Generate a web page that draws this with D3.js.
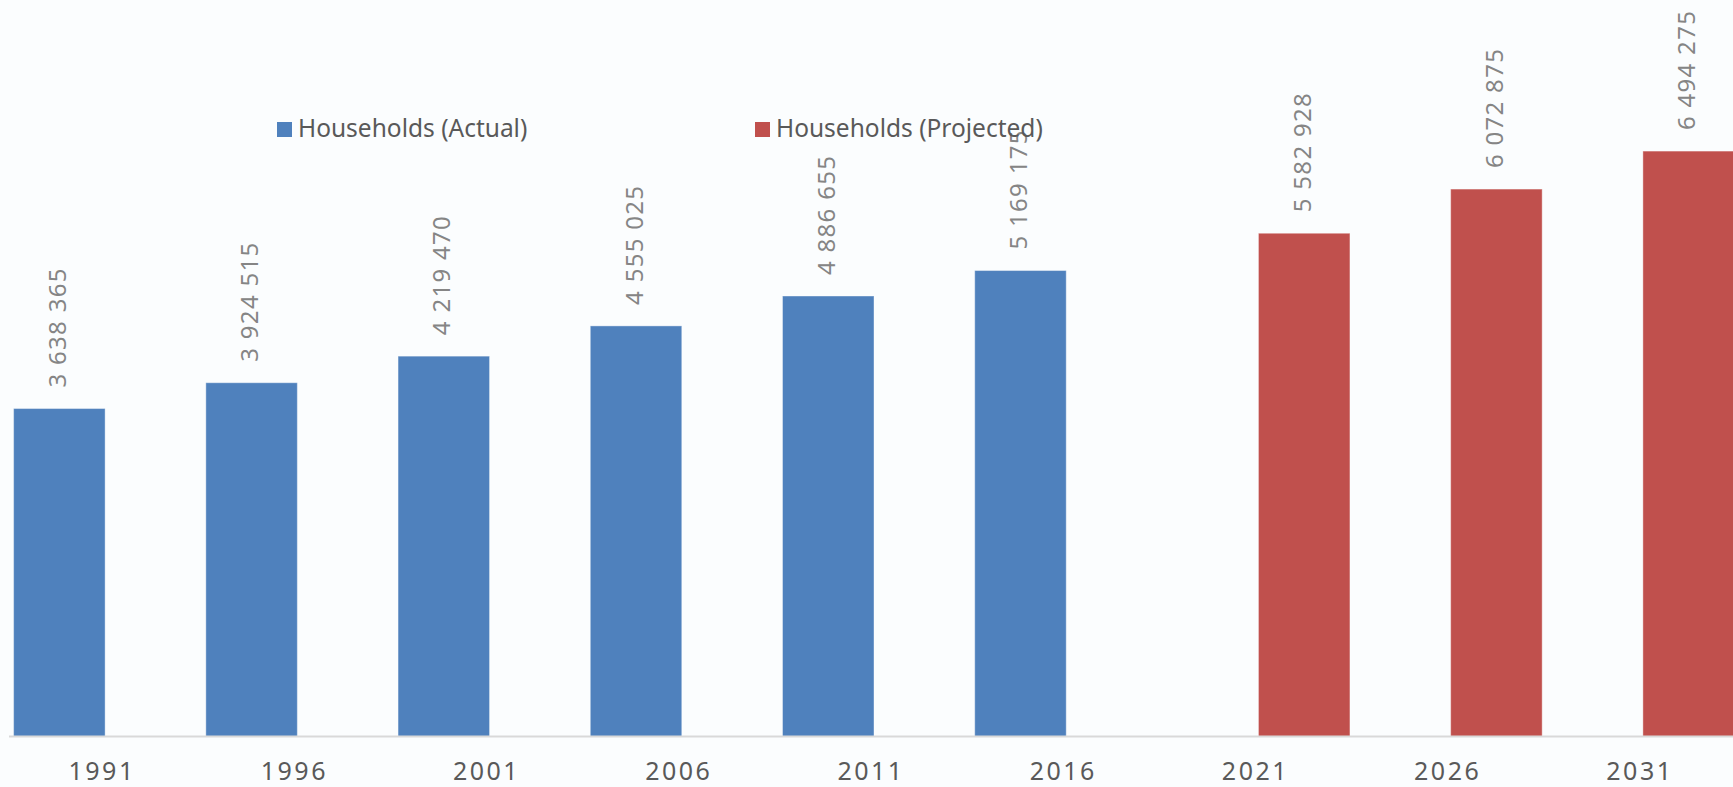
<!DOCTYPE html>
<html>
<head>
<meta charset="utf-8">
<script src="https://cdn.jsdelivr.net/npm/d3@7"></script>
<style>
  body { margin: 0; background: #fbfdfe; overflow: hidden; }
  svg { display: block; font-family: "Noto Sans", "Open Sans", sans-serif; }
</style>
</head>
<body>
<svg id="chart" width="1733" height="787"></svg>
<script>
var years = ["1991", "1996", "2001", "2006", "2011", "2016", "2021", "2026", "2031"];
var actual = [3638365, 3924515, 4219470, 4555025, 4886655, 5169175, null, null, null];
var projected = [null, null, null, null, null, null, 5582928, 6072875, 6494275];
var seriesNames = ["Households (Actual)", "Households (Projected)"];
var seriesColors = ["#4f81bd", "#c0504d"];

var svg = d3.select("#chart");
var width = +svg.attr("width");
var height = +svg.attr("height");

var x0 = d3.scaleBand().domain(years).range([9, 1739]).paddingInner(0.048).paddingOuter(0.024);
var x1 = d3.scaleBand().domain([0, 1]).range([0, x0.bandwidth()]);
var y = d3.scaleLinear().domain([0, 7000000]).range([736.5, 105.5]);

var fmt = function (v) { return d3.format(",")(v).replace(/,/g, " "); };

var rows = [];
years.forEach(function (yr, i) {
    if (actual[i] != null) rows.push({ year: yr, s: 0, v: actual[i] });
    if (projected[i] != null) rows.push({ year: yr, s: 1, v: projected[i] });
});

// bars
svg.append("g").selectAll("rect").data(rows).enter().append("rect")
    .attr("x", function (d) { return x0(d.year) + x1(d.s); })
    .attr("y", function (d) { return y(d.v); })
    .attr("width", x1.bandwidth())
    .attr("height", function (d) { return y(0) - y(d.v); })
    .attr("fill", function (d) { return seriesColors[d.s]; })
    .attr("stroke", "#ffffff").attr("stroke-opacity", 0.4).attr("stroke-width", 1);

// axis
var xAxis = svg.append("g").attr("transform", "translate(0," + y(0) + ")")
    .call(d3.axisBottom(x0).tickSize(0).tickPadding(26));
xAxis.select(".domain").attr("stroke", "#d9d9d9").attr("stroke-width", 2)
    .attr("d", "M9,0H" + width);
xAxis.selectAll("text").attr("fill", "#595959").attr("font-size", 25)
    .attr("font-family", "Noto Sans, sans-serif")
    .attr("letter-spacing", "2.5px").attr("dx", -3);

// data labels
svg.append("g").selectAll("text").data(rows).enter().append("text")
    .attr("transform", function (d) {
        var cx = x0(d.year) + x1(d.s) + x1.bandwidth() / 2 - 2;
        return "translate(" + cx + "," + (y(d.v) - 21) + ") rotate(-90)";
    })
    .attr("dy", "0.36em")
    .attr("fill", "#858585").attr("font-size", 24).attr("letter-spacing", "1.3px")
    .text(function (d) { return fmt(d.v); });

// legend
var legendX = [277, 755];
var legend = svg.append("g").selectAll("g").data(seriesNames).enter().append("g")
    .attr("transform", function (d, i) { return "translate(" + legendX[i] + ",122)"; });
legend.append("rect").attr("width", 15).attr("height", 15)
    .attr("fill", function (d, i) { return seriesColors[i]; });
legend.append("text").attr("x", 21).attr("y", 14.5)
    .attr("fill", "#595959").attr("font-size", 24.5)
    .text(function (d) { return d; });
</script>
</body>
</html>
